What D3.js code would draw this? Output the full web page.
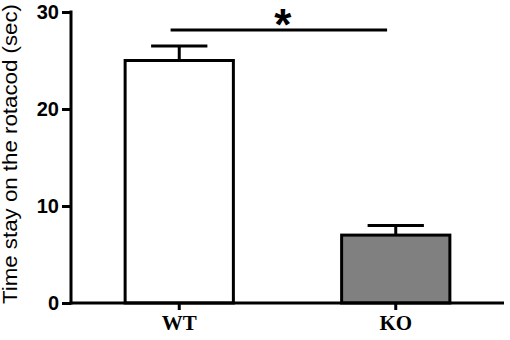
<!DOCTYPE html>
<html>
<head>
<meta charset="utf-8">
<script src="https://d3js.org/d3.v7.min.js"></script>
<style>
  body { margin: 0; background: #fff; }
</style>
</head>
<body>
<script>
    // data
    let groups = ["WT", "KO"];
    let means = [25, 7];
    let errors = [1.5, 1];
    let fills = ["#ffffff", "#808080"];
    let yTicks = [0, 10, 20, 30];
    let yTitle = "Time stay on the rotacod (sec)";
    let sigLabel = "*";

    let w = 510, h = 340;
    let plotLeft = 71, plotRight = 504, plotTop = 12, plotBottom = 303;
    let sans = "'Liberation Sans', Arial, sans-serif";
    let serif = "'Liberation Serif', 'Times New Roman', serif";

    let svg = d3.select("body").append("svg")
        .attr("width", w)
        .attr("height", h);

    let x = d3.scaleBand()
        .domain(groups)
        .range([plotLeft, plotRight])
        .paddingInner(0.5)
        .paddingOuter(0.25);

    let y = d3.scaleLinear()
        .domain([0, 30])
        .range([plotBottom, plotTop]);

    let rows = groups.map((g, i) => ({ g: g, m: means[i], e: errors[i], c: fills[i] }));

    // error bars (behind bars)
    let eb = svg.append("g").attr("stroke", "#000").attr("stroke-width", 3);
    eb.selectAll("line.v")
        .data(rows)
        .join("line")
            .attr("class", "v")
            .attr("x1", d => x(d.g) + x.bandwidth() / 2)
            .attr("x2", d => x(d.g) + x.bandwidth() / 2)
            .attr("y1", d => y(d.m))
            .attr("y2", d => y(d.m + d.e));
    eb.selectAll("line.cap")
        .data(rows)
        .join("line")
            .attr("class", "cap")
            .attr("x1", d => x(d.g) + x.bandwidth() * 0.24)
            .attr("x2", d => x(d.g) + x.bandwidth() * 0.76)
            .attr("y1", d => y(d.m + d.e))
            .attr("y2", d => y(d.m + d.e));

    svg.selectAll("rect.bar")
        .data(rows)
        .join("rect")
            .attr("class", "bar")
            .attr("x", d => x(d.g))
            .attr("y", d => y(d.m))
            .attr("width", x.bandwidth())
            .attr("height", d => y(0) - y(d.m))
            .attr("fill", d => d.c)
            .attr("stroke", "#000")
            .attr("stroke-width", 3);

    // axes
    let yAxis = svg.append("g")
        .attr("transform", `translate(${plotLeft},0)`)
        .call(d3.axisLeft(y).tickValues(yTicks).tickSize(9).tickPadding(3).tickSizeOuter(0));
    yAxis.selectAll("text")
        .attr("font-family", sans)
        .attr("font-weight", "bold")
        .attr("font-size", 20)
        .attr("fill", "#000");

    let xAxis = svg.append("g")
        .attr("transform", `translate(0,${plotBottom})`)
        .call(d3.axisBottom(x).tickSize(7).tickPadding(5).tickSizeOuter(0));
    xAxis.selectAll("text")
        .attr("font-family", serif)
        .attr("font-weight", "bold")
        .attr("font-size", 21)
        .attr("fill", "#000");

    svg.selectAll(".domain, .tick line")
        .attr("stroke", "#000")
        .attr("stroke-width", 3);
    // extend axes to meet at the corner
    yAxis.select(".domain").attr("d", `M0,${plotTop - 1.5}V${plotBottom + 1.5}`);
    xAxis.select(".domain").attr("d", `M${plotLeft - 1.5},0H${plotRight}`);

    // y title (stretched a bit to the reference length)
    svg.append("text")
        .attr("transform", `translate(17,154) rotate(-90)`)
        .attr("text-anchor", "middle")
        .attr("font-family", sans)
        .attr("font-size", 19.5)
        .attr("textLength", 300)
        .attr("lengthAdjust", "spacingAndGlyphs")
        .attr("fill", "#000")
        .text(yTitle);

    // significance bar
    let x1 = x("WT") + x.bandwidth() * 0.42;
    let x2 = x("KO") + x.bandwidth() * 0.42;
    svg.append("line")
        .attr("x1", x1).attr("x2", x2)
        .attr("y1", 30).attr("y2", 30)
        .attr("stroke", "#000")
        .attr("stroke-width", 3);
    svg.append("text")
        .attr("x", (x1 + x2) / 2 + 4)
        .attr("y", 40)
        .attr("text-anchor", "middle")
        .attr("font-family", sans)
        .attr("font-weight", "bold")
        .attr("font-size", 44)
        .attr("fill", "#000")
        .text(sigLabel);
</script>
</body>
</html>
